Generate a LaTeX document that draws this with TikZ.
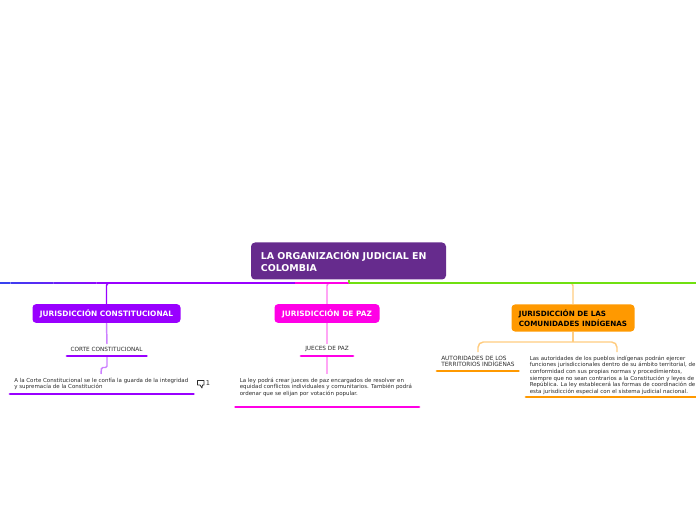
\documentclass[tikz,border=0pt]{standalone}
\usepackage{fontspec}
\setmainfont{DejaVu Sans}
\usetikzlibrary{calc}
\definecolor{rootc}{HTML}{662B8D}
\definecolor{purp}{HTML}{9900FF}
\definecolor{purpl}{HTML}{CC80FF}
\definecolor{mag}{HTML}{FF00E6}
\definecolor{magl}{HTML}{FFA6F5}
\definecolor{oran}{HTML}{FF9900}
\definecolor{oranl}{HTML}{FFCC80}
\definecolor{lime}{HTML}{70E010}
\definecolor{blu}{HTML}{3344EE}
\definecolor{txt}{HTML}{2A2A2A}
\tikzset{
 x=0.75pt,y=-0.75pt,
 rootbox/.style={rounded corners=3pt,fill=rootc,draw=none,minimum width=146.25pt,minimum height=27.75pt,text=white,font=\bfseries\fontsize{7.08}{8.9}\selectfont,align=left,text width=131.5pt,inner sep=0pt},
 mainbox/.style={rounded corners=2.6pt,draw=none,text=white,font=\bfseries\fontsize{5.55}{7.1}\selectfont,align=center,inner sep=0pt},
 leaf/.style={font=\fontsize{4.3}{5}\selectfont,text=txt,inner sep=0pt},
 body/.style={font=\fontsize{4.12}{5}\selectfont,text=txt,inner sep=0pt,align=left,anchor=north west},
 bar/.style={line width=2.2pt,line cap=round},
 conn/.style={line width=1.1pt},
 trunk/.style={line width=1.4pt},
}
\begin{document}
\begin{tikzpicture}
\useasboundingbox (0,0) rectangle (696,520);
% nodes
\node[rootbox] (root) at (348.5,261) {LA ORGANIZACIÓN JUDICIAL EN\\COLOMBIA};
\node[mainbox,fill=purp,minimum width=111pt,minimum height=14pt] (constit) at (106.5,313.5) {JURISDICCIÓN CONSTITUCIONAL};
\node[mainbox,fill=mag,minimum width=78.75pt,minimum height=14pt] (paz) at (327,313.5) {JURISDICCIÓN DE PAZ};
\node[mainbox,fill=oran,text=black,minimum width=92.25pt,minimum height=20.25pt,align=left,font=\bfseries\fontsize{5.4}{7.1}\selectfont] (indig) at (573,318) {JURISDICCIÓN DE LAS\\COMUNIDADES INDÍGENAS};
\node[leaf] (corte) at (106.5,349) {CORTE CONSTITUCIONAL};
\node[leaf] (jueces) at (327,349) {JUECES DE PAZ};
\node[body,font=\fontsize{4.35}{4.9}\selectfont] (autor) at (441,355.5) {AUTORIDADES DE LOS\\TERRITORIOS INDÍGENAS};
\node[body] (coment) at (14,377.5) {A la Corte Constitucional se le confía la guarda de la integridad\\y supremacía de la Constitución};
\node[body] (ley) at (239.5,377.5) {La ley podrá crear jueces de paz encargados de resolver en\\equidad conflictos individuales y comunitarios. También podrá\\ordenar que se elijan por votación popular.};
\node[body] (auto2) at (529.5,355.5) {Las autoridades de los pueblos indígenas podrán ejercer\\funciones jurisdiccionales dentro de su ámbito territorial, de\\conformidad con sus propias normas y procedimientos,\\siempre que no sean contrarios a la Constitución y leyes de\\República. La ley establecerá las formas de coordinación de\\esta jurisdicción especial con el sistema judicial nacional.};
\node[font=\fontsize{5}{6}\selectfont,text=txt,inner sep=0pt] (num) at (208,383.5) {1};
% free ends
\coordinate (mid) at (349,283);
\coordinate (tL) at (0,283);
\coordinate (tC) at (107,283);
\coordinate (tP) at (295,283);
\coordinate (tR) at (696,283);
\coordinate (cE) at (107,344);
\coordinate (cB) at (107,357);
\coordinate (cC) at (101,374);
\coordinate (jE) at (327,344);
\coordinate (jB) at (327,357);
\coordinate (jC) at (327,374);
\coordinate (iF) at (573,342);
\coordinate (iA) at (478,352);
\coordinate (iB) at (617,352);
% branches
\draw[conn,purp,rounded corners=2pt] (constit.north) -- (106.5,283) -- (110,283);
\draw[conn,magl!70!mag,rounded corners=2pt] (paz.north) -- (327,283) -- (330,283);
\draw[conn,oranl,rounded corners=2pt] (indig.north) -- (573,283) -- (570,283);
% trunks
\foreach \i in {0,...,9}{
  \pgfmathtruncatemacro{\p}{\i*10+5}
  \draw[trunk,purp!\p!blu] ($(tL)!\i/10!(tC)$) -- ($(tL)!\i/10+0.1!(tC)$);
}
\draw[trunk,purp] (tC) -- (tP);
\draw[trunk,mag] (tP) -- (mid);
\draw[trunk,lime] (mid) -- (tR);
\draw[conn,lime] (root.south -| mid) -- (mid);
% second level
\draw[conn,purpl] (constit.south) -- (cE);
\draw[conn,magl] (paz.south) -- (jE);
\draw[conn,oranl] (indig.south) -- (iF);
\draw[conn,purpl,rounded corners=1pt] (cB) -- (107,367.5) -- (101.5,367.5) -- (cC);
\draw[conn,magl] (jB) -- (jC);
\draw[conn,oranl,rounded corners=4pt] (iA) -- (478,342) -- (617,342) -- (iB);
% underlines
\draw[bar,purp] (67,356) -- (146.5,356);
\draw[bar,mag] (301,356) -- (353,356);
\draw[bar,oran] (437,371) -- (518.5,371);
\draw[bar,purp] (10,394) -- (193.5,394);
\draw[bar,mag] (235.5,407) -- (419,407);
\draw[bar,oran] (526,397) -- (696,397);
% comment icon
\draw[line width=0.6pt,txt,line join=round] (197.5,380.5) -- (204,380.5) -- (204,385) -- (202.5,385) -- (202,388) -- (200,385) -- (197.5,385) -- cycle;
\end{tikzpicture}
\end{document}
